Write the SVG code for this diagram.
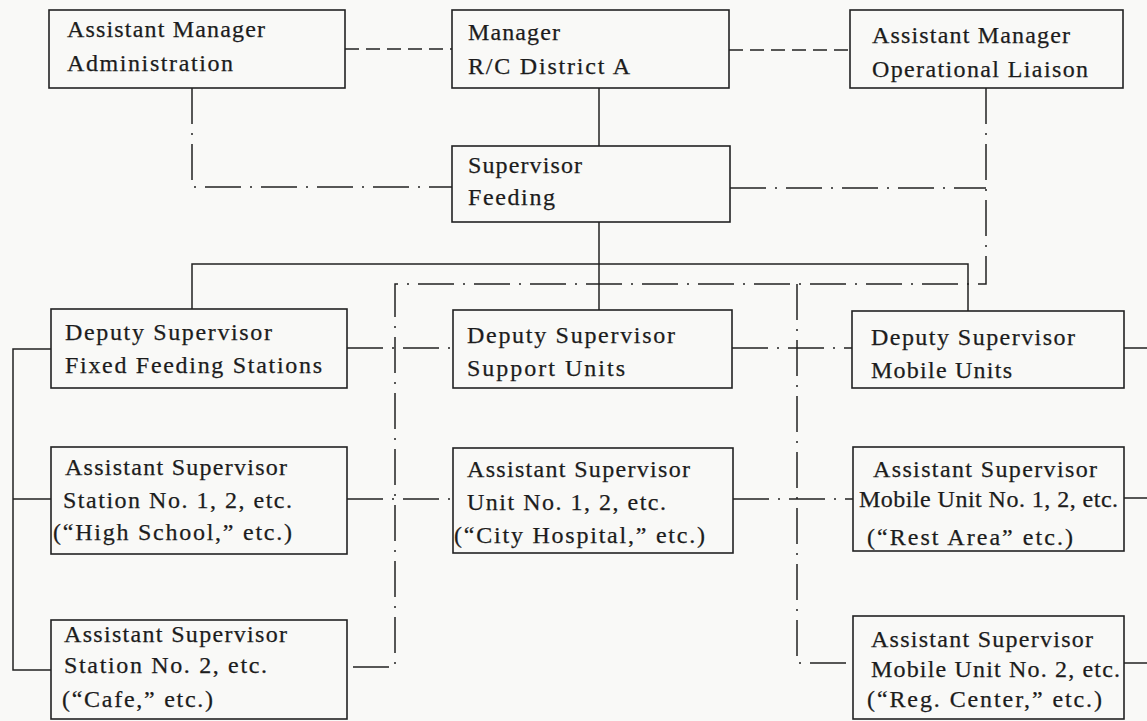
<svg xmlns="http://www.w3.org/2000/svg" width="1147" height="721" viewBox="0 0 1147 721">
<style>
.bg{fill:#f9f9f7}
.box{fill:none;stroke:#222;stroke-width:1.6}
.t{font-family:"Liberation Serif","Times New Roman",serif;font-size:24px;fill:#1c1c1c;stroke:#1c1c1c;stroke-width:0.25}
.solid{fill:none;stroke:#222;stroke-width:1.5}
.dash{fill:none;stroke:#222;stroke-width:1.5;stroke-dasharray:14 7}
.dd{fill:none;stroke:#222;stroke-width:1.5;stroke-dasharray:36 9 2 9}
</style>
<rect class="bg" x="0" y="0" width="1147" height="721"/>
<g id="connectors">
  <path class="dash" d="M345 49 H452"/>
  <path class="dash" d="M729 50 H850"/>
  <path class="solid" d="M599 88 V146"/>
  <path class="dd" d="M192 88 V187 H452"/>
  <path class="dd" d="M986 88 V284 H395 V667 H347"/>
  <path class="dd" d="M730 188 H986"/>
  <path class="dd" d="M797 284 V663 H853"/>
  <path class="solid" d="M599 222 V310"/>
  <path class="solid" d="M192 309 V264 H968 V311"/>
  <path class="dd" d="M347 348 H453"/>
  <path class="dd" d="M732 348 H852"/>
  <path class="dd" d="M347 499 H453"/>
  <path class="dd" d="M733 499 H853"/>
  <path class="solid" d="M51 349 H13 V670 H51 M13 499 H51"/>
  <path class="solid" d="M1124 348 H1147 M1124 498 H1147 M1124 663 H1147"/>
</g>
<g id="asst-mgr-admin">
  <rect class="box" x="49" y="10" width="296" height="78"/>
  <text class="t" x="67" y="37" textLength="198" lengthAdjust="spacing">Assistant Manager</text>
  <text class="t" x="67" y="71" textLength="166" lengthAdjust="spacing">Administration</text>
</g>
<g id="manager">
  <rect class="box" x="452" y="10" width="277" height="78"/>
  <text class="t" x="468" y="40" textLength="92" lengthAdjust="spacing">Manager</text>
  <text class="t" x="468" y="74" textLength="162" lengthAdjust="spacing">R/C District A</text>
</g>
<g id="asst-mgr-liaison">
  <rect class="box" x="850" y="10" width="273" height="78"/>
  <text class="t" x="872" y="43" textLength="198" lengthAdjust="spacing">Assistant Manager</text>
  <text class="t" x="872" y="77" textLength="216" lengthAdjust="spacing">Operational Liaison</text>
</g>
<g id="supervisor-feeding">
  <rect class="box" x="452" y="146" width="278" height="76"/>
  <text class="t" x="468" y="173" textLength="114" lengthAdjust="spacing">Supervisor</text>
  <text class="t" x="468" y="205" textLength="87" lengthAdjust="spacing">Feeding</text>
</g>
<g id="deputy-fixed">
  <rect class="box" x="51" y="309" width="296" height="79"/>
  <text class="t" x="65" y="340" textLength="207" lengthAdjust="spacing">Deputy Supervisor</text>
  <text class="t" x="65" y="373" textLength="257" lengthAdjust="spacing">Fixed Feeding Stations</text>
</g>
<g id="deputy-support">
  <rect class="box" x="453" y="310" width="279" height="78"/>
  <text class="t" x="467" y="343" textLength="208" lengthAdjust="spacing">Deputy Supervisor</text>
  <text class="t" x="467" y="376" textLength="158" lengthAdjust="spacing">Support Units</text>
</g>
<g id="deputy-mobile">
  <rect class="box" x="852" y="311" width="272" height="77"/>
  <text class="t" x="871" y="345" textLength="204" lengthAdjust="spacing">Deputy Supervisor</text>
  <text class="t" x="871" y="378" textLength="141" lengthAdjust="spacing">Mobile Units</text>
</g>
<g id="asst-station-1">
  <rect class="box" x="51" y="447" width="296" height="107"/>
  <text class="t" x="65" y="475" textLength="222" lengthAdjust="spacing">Assistant Supervisor</text>
  <text class="t" x="63" y="508" textLength="229" lengthAdjust="spacing">Station No. 1, 2, etc.</text>
  <text class="t" x="53" y="540" textLength="239" lengthAdjust="spacing">(“High School,” etc.)</text>
</g>
<g id="asst-unit">
  <rect class="box" x="453" y="448" width="280" height="105"/>
  <text class="t" x="467" y="477" textLength="223" lengthAdjust="spacing">Assistant Supervisor</text>
  <text class="t" x="467" y="510" textLength="199" lengthAdjust="spacing">Unit No. 1, 2, etc.</text>
  <text class="t" x="454" y="543" textLength="251" lengthAdjust="spacing">(“City Hospital,” etc.)</text>
</g>
<g id="asst-mobile-1">
  <rect class="box" x="853" y="447" width="271" height="104"/>
  <text class="t" x="873" y="477" textLength="224" lengthAdjust="spacing">Assistant Supervisor</text>
  <text class="t" x="859" y="507" textLength="259" lengthAdjust="spacing">Mobile Unit No. 1, 2, etc.</text>
  <text class="t" x="867" y="545" textLength="206" lengthAdjust="spacing">(“Rest Area” etc.)</text>
</g>
<g id="asst-station-2">
  <rect class="box" x="51" y="620" width="296" height="99"/>
  <text class="t" x="64" y="642" textLength="223" lengthAdjust="spacing">Assistant Supervisor</text>
  <text class="t" x="64" y="673" textLength="203" lengthAdjust="spacing">Station No. 2, etc.</text>
  <text class="t" x="62" y="707" textLength="151" lengthAdjust="spacing">(“Cafe,” etc.)</text>
</g>
<g id="asst-mobile-2">
  <rect class="box" x="853" y="616" width="271" height="103"/>
  <text class="t" x="871" y="647" textLength="222" lengthAdjust="spacing">Assistant Supervisor</text>
  <text class="t" x="871" y="677" textLength="249" lengthAdjust="spacing">Mobile Unit No. 2, etc.</text>
  <text class="t" x="867" y="707" textLength="235" lengthAdjust="spacing">(“Reg. Center,” etc.)</text>
</g>
</svg>
